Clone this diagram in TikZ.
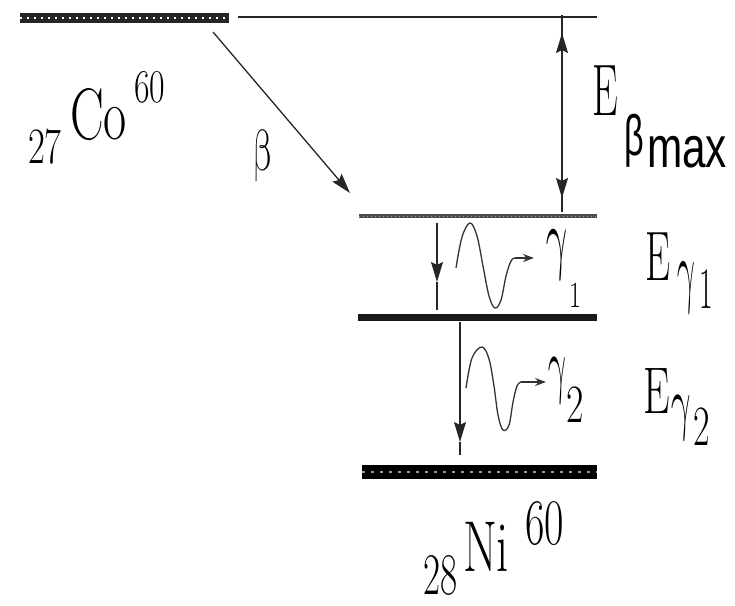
\RequirePackage{fix-cm}
\documentclass[tikz,border=0pt]{standalone}
\usepackage{fontspec}
\usepackage{graphicx}
\newfontfamily\sansf{Liberation Sans}
\usetikzlibrary{arrows.meta}
\newcommand\tx[3]{\fontsize{#1}{#1}\selectfont\scalebox{#2}[1]{#3}}
\tikzset{
  lbl/.style={inner sep=0pt, outer sep=0pt, anchor=base west},
  grk/.style={lbl, xslant=#1},
  thin line/.style={line width=1.3pt, black!85},
  bigtip/.style={-{Stealth[length=20pt,width=12pt,inset=3pt]}},
  smalltip/.style={-{Stealth[length=11pt,width=8pt]}},
  wave/.style={line width=1.3pt, black!80},
}
\begin{document}
\begin{tikzpicture}[x=1pt,y=-1pt]
\useasboundingbox (0,0) rectangle (735,605);
% level coordinates
\coordinate (coL) at (20,18);
\coordinate (coR) at (229,18);
\coordinate (topL) at (238,17);
\coordinate (topR) at (597,17);
\coordinate (l2L) at (359,216);
\coordinate (l2R) at (597,216);
\coordinate (l3L) at (358,317);
\coordinate (l3R) at (597,317);
\coordinate (l4L) at (362,472);
\coordinate (l4R) at (597,472);
% levels
\draw[line width=10pt, black!85] (coL) -- (coR);
\draw[line width=2pt, white, dash pattern=on 2pt off 5pt] (coL) -- (coR);
\draw[thin line] (topL) -- (topR);
\draw[line width=4pt, black!70] (l2L) -- (l2R);
\draw[line width=1pt, white!60!black, dash pattern=on 1pt off 3pt] (l2L) -- (l2R);
\draw[line width=7pt, black!90] (l3L) -- (l3R);
\draw[line width=14pt, black] (l4L) -- (l4R);
\draw[line width=2pt, black!40, dash pattern=on 3pt off 6pt] (l4L) -- (l4R);
% beta arrow
\coordinate (bs) at (213,32);
\coordinate (be) at (350,193);
\draw[thin line, bigtip] (bs) -- (be);
% E beta max arrow
\coordinate (emT) at (562,15);
\coordinate (emTt) at (562,33);
\coordinate (emBt) at (562,198);
\coordinate (emB) at (562,212);
\coordinate (emM) at (562,110);
\draw[thin line] (emT) -- (emB);
\draw[thin line, bigtip] (emM) -- (emTt);
\draw[thin line, bigtip] (emM) -- (emBt);
% gamma1 transition arrow
\coordinate (g1T) at (437,223);
\coordinate (g1t) at (437,282);
\coordinate (g1B) at (437,310);
\draw[thin line, bigtip] (g1T) -- (g1t);
\draw[thin line] (g1t) -- (g1B);
% gamma2 transition arrow
\coordinate (g2T) at (460,322);
\coordinate (g2t) at (460,442);
\coordinate (g2B) at (460,455);
\draw[thin line, bigtip] (g2T) -- (g2t);
\draw[thin line] (g2t) -- (g2B);
% wave 1
\coordinate (w1d) at (515,258);
\coordinate (w1e) at (534,258);
\draw[wave] plot[smooth, tension=0.6] coordinates {(456,268) (462,237) (470,223) (477,236) (483,266) (489,296) (495,308) (501,300) (506,276) (511,261) (515,258)};
\draw[wave, smalltip] (w1d) -- (w1e);
% wave 2
\coordinate (w2d) at (521,382);
\coordinate (w2e) at (546,382);
\draw[wave] plot[smooth, tension=0.6] coordinates {(466,388) (472,358) (482,347) (489,359) (494,386) (498,415) (503,430) (509,425) (513,402) (517,386) (521,382)};
\draw[wave, smalltip] (w2d) -- (w2e);
% Co label
\node[lbl] (co27) at (28,163) {\tx{51}{0.72}{27}};
\node[lbl] (coCo) at (70,139) {\tx{73}{0.69}{Co}};
\node[lbl] (co60) at (134,102) {\tx{47}{0.72}{60}};
% beta
\node[grk=-0.15] (betalbl) at (253,170) {\tx{58}{0.62}{$\beta$}};
% E beta max
\node[lbl] (Eb) at (592,115) {\tx{73}{0.56}{E}};
\node[lbl, font=\sansf] (Ebb) at (624,155) {\tx{57}{0.6}{β}};
\node[lbl, font=\sansf] (Ebm) at (647,167) {\tx{58}{0.73}{max}};
% gamma1 label
\node[grk=-0.06] (g1g) at (547,264) {\tx{80}{0.49}{$\gamma$}};
\node[lbl] (g1n) at (569,307) {\tx{37}{0.7}{1}};
% E gamma1
\node[grk=-0.05] (Eg1g) at (678,297) {\tx{82}{0.40}{$\gamma$}};
\node[lbl] (Eg1) at (645,280) {\tx{70}{0.57}{E}};
\node[lbl] (Eg1n) at (699,308) {\tx{59}{0.5}{1}};
% gamma2 label
\node[grk=-0.06] (g2g) at (549,389) {\tx{74}{0.45}{$\gamma$}};
\node[lbl] (g2n) at (566,422) {\tx{54}{0.7}{2}};
% E gamma2
\node[lbl] (Eg2) at (643,413) {\tx{66}{0.64}{E}};
\node[grk=-0.06] (Eg2g) at (672,426) {\tx{72}{0.5}{$\gamma$}};
\node[lbl] (Eg2n) at (693,445) {\tx{57}{0.63}{2}};
% Ni label
\node[lbl] (ni28) at (423,594) {\tx{59}{0.63}{28}};
\node[lbl] (niNi) at (463,571) {\tx{72}{0.68}{Ni}};
\node[lbl] (ni60) at (525,544) {\tx{65}{0.65}{60}};
\end{tikzpicture}
\end{document}
